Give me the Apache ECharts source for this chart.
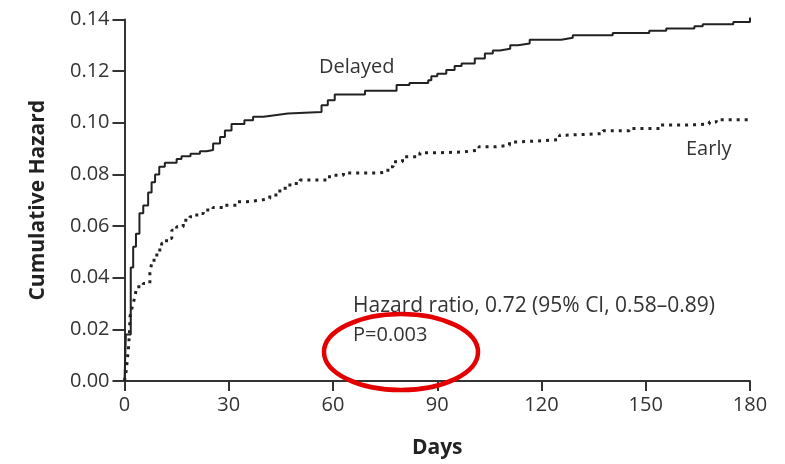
<!DOCTYPE html>
<html>
<head>
<meta charset="utf-8">
<script src="https://cdn.jsdelivr.net/npm/echarts@6/dist/echarts.min.js"></script>
<style>
  html, body { margin: 0; padding: 0; background: #fff; }
  #main { width: 785px; height: 464px; }
</style>
</head>
<body>
<div id="main"></div>
<script>
// 累积风险 - 读自原图
const xTicks = [0, 30, 60, 90, 120, 150, 180];

const delayedDays = [0, 0.4, 1.8, 2.5, 3.3, 4.3, 5.4, 6.8, 7.8, 8.8, 10, 11.6, 15, 16.4, 19, 21.7, 23.6,
    25.5, 27.5, 28.9, 30.8, 34.5, 37, 40, 43.8, 47, 56.7, 58.5, 60.5, 69.2, 78.3, 82, 87.4, 88.3, 90,
    92.6, 95, 97, 100.8, 103.7, 106, 108, 111, 113.2, 116.6, 125.7, 129, 140.5, 151, 155.9, 164,
    166.4, 175.2, 180];
const delayedHazard = [0, 0.018, 0.044, 0.052, 0.057, 0.065, 0.068, 0.073, 0.077, 0.080, 0.083, 0.0845,
    0.086, 0.087, 0.088, 0.089, 0.0895, 0.092, 0.0945, 0.097, 0.0995, 0.101, 0.1023, 0.103, 0.1036,
    0.1042, 0.1068, 0.1087, 0.111, 0.1124, 0.1146, 0.1154, 0.1165, 0.118, 0.119, 0.1204, 0.122, 0.123,
    0.1249, 0.1268, 0.128, 0.1287, 0.130, 0.1307, 0.1322, 0.1329, 0.1339, 0.1348, 0.1356, 0.1365,
    0.1374, 0.1382, 0.139, 0.1408];

const earlyDays = [0, 0.5, 0.8, 1.1, 1.4, 1.6, 2.1, 2.5, 3, 3.5, 5.4, 7.3, 7.8, 8.5, 9.3, 10.7, 12.1,
    13.6, 15, 16.9, 18.8, 20.8, 22.7, 25.5, 28.4, 32.3, 35.1, 39, 41.8, 44.7, 47.6, 50.5, 59, 63, 73.5,
    75.8, 77.3, 80, 85, 90.7, 97.3, 102, 107, 110.8, 113.7, 123.3, 125.2, 127, 137.7, 145.3, 154,
    161.6, 168.3, 170.3, 180];
const earlyHazard = [0, 0.004, 0.008, 0.012, 0.018, 0.025, 0.028, 0.030, 0.0327, 0.0365, 0.0378, 0.0417,
    0.0455, 0.048, 0.0507, 0.0533, 0.0552, 0.0584, 0.0597, 0.0623, 0.0636, 0.0649, 0.0662, 0.0672,
    0.0681, 0.0694, 0.070, 0.0707, 0.072, 0.0746, 0.0765, 0.0778, 0.0797, 0.0806, 0.081, 0.083, 0.0849,
    0.0868, 0.0884, 0.0887, 0.0894, 0.0907, 0.0913, 0.0926, 0.0933, 0.0935, 0.0952, 0.0958, 0.0969,
    0.0978, 0.0991, 0.0995, 0.1003, 0.1012, 0.1012];

const font = '"Open Sans", Lato, sans-serif';
const ink = '#333';

const chart = echarts.init(document.getElementById('main'));

const option = {
    backgroundColor: '#fff',
    animation: false,
    grid: { left: 124.5, right: 35, top: 19.5, bottom: 82, containLabel: false },
    xAxis: {
        type: 'value',
        min: 0, max: 180, interval: 30,
        name: 'Days',
        nameLocation: 'middle',
        nameGap: 57,
        nameTextStyle: { fontFamily: font, fontSize: 21, fontWeight: 'bold', color: '#222' },
        axisLine: { lineStyle: { color: ink, width: 2 } },
        axisTick: { length: 10, lineStyle: { color: ink, width: 2 } },
        axisLabel: { margin: 14, fontFamily: font, fontSize: 20, color: ink,
            formatter: v => (xTicks.indexOf(v) >= 0 ? String(v) : '') },
        splitLine: { show: false }
    },
    yAxis: {
        type: 'value',
        min: 0, max: 0.14, interval: 0.02,
        name: 'Cumulative Hazard',
        nameLocation: 'middle',
        nameGap: 76,
        nameTextStyle: { fontFamily: font, fontSize: 21, fontWeight: 'bold', color: '#222' },
        axisLine: { onZero: false, lineStyle: { color: ink, width: 2 } },
        axisTick: { length: 12, lineStyle: { color: ink, width: 2 } },
        axisLabel: { margin: 15, fontFamily: font, fontSize: 20, color: ink,
            formatter: v => v.toFixed(2) },
        splitLine: { show: false }
    },
    series: [
        {
            name: 'Delayed',
            type: 'line',
            step: 'end',
            clip: false,
            symbol: 'none',
            data: delayedDays.map((d, i) => [d, delayedHazard[i]]),
            lineStyle: { color: '#222', width: 2 }
        },
        {
            name: 'Early',
            type: 'line',
            step: 'end',
            symbol: 'none',
            data: earlyDays.map((d, i) => [d, earlyHazard[i]]),
            lineStyle: { color: '#222', width: 3, type: [3, 5] }
        }
    ],
    graphic: [
        { type: 'text', left: 319, top: 57,
          style: { text: 'Delayed', fontFamily: font, fontSize: 20, fill: ink } },
        { type: 'text', left: 686, top: 139,
          style: { text: 'Early', fontFamily: font, fontSize: 20, fill: ink } },
        { type: 'text', left: 353, top: 296,
          style: { text: 'Hazard ratio, 0.72 (95% CI, 0.58\u20130.89)', fontFamily: font, fontSize: 21, fill: ink } },
        { type: 'text', left: 353, top: 325,
          style: { text: 'P=0.003', fontFamily: font, fontSize: 20, fill: ink } },
        { type: 'ellipse', shape: { cx: 401, cy: 352, rx: 77, ry: 38 },
          style: { fill: 'none', stroke: '#e50000', lineWidth: 4.5 }, z: 100 }
    ]
};

chart.setOption(option);
</script>
</body>
</html>
